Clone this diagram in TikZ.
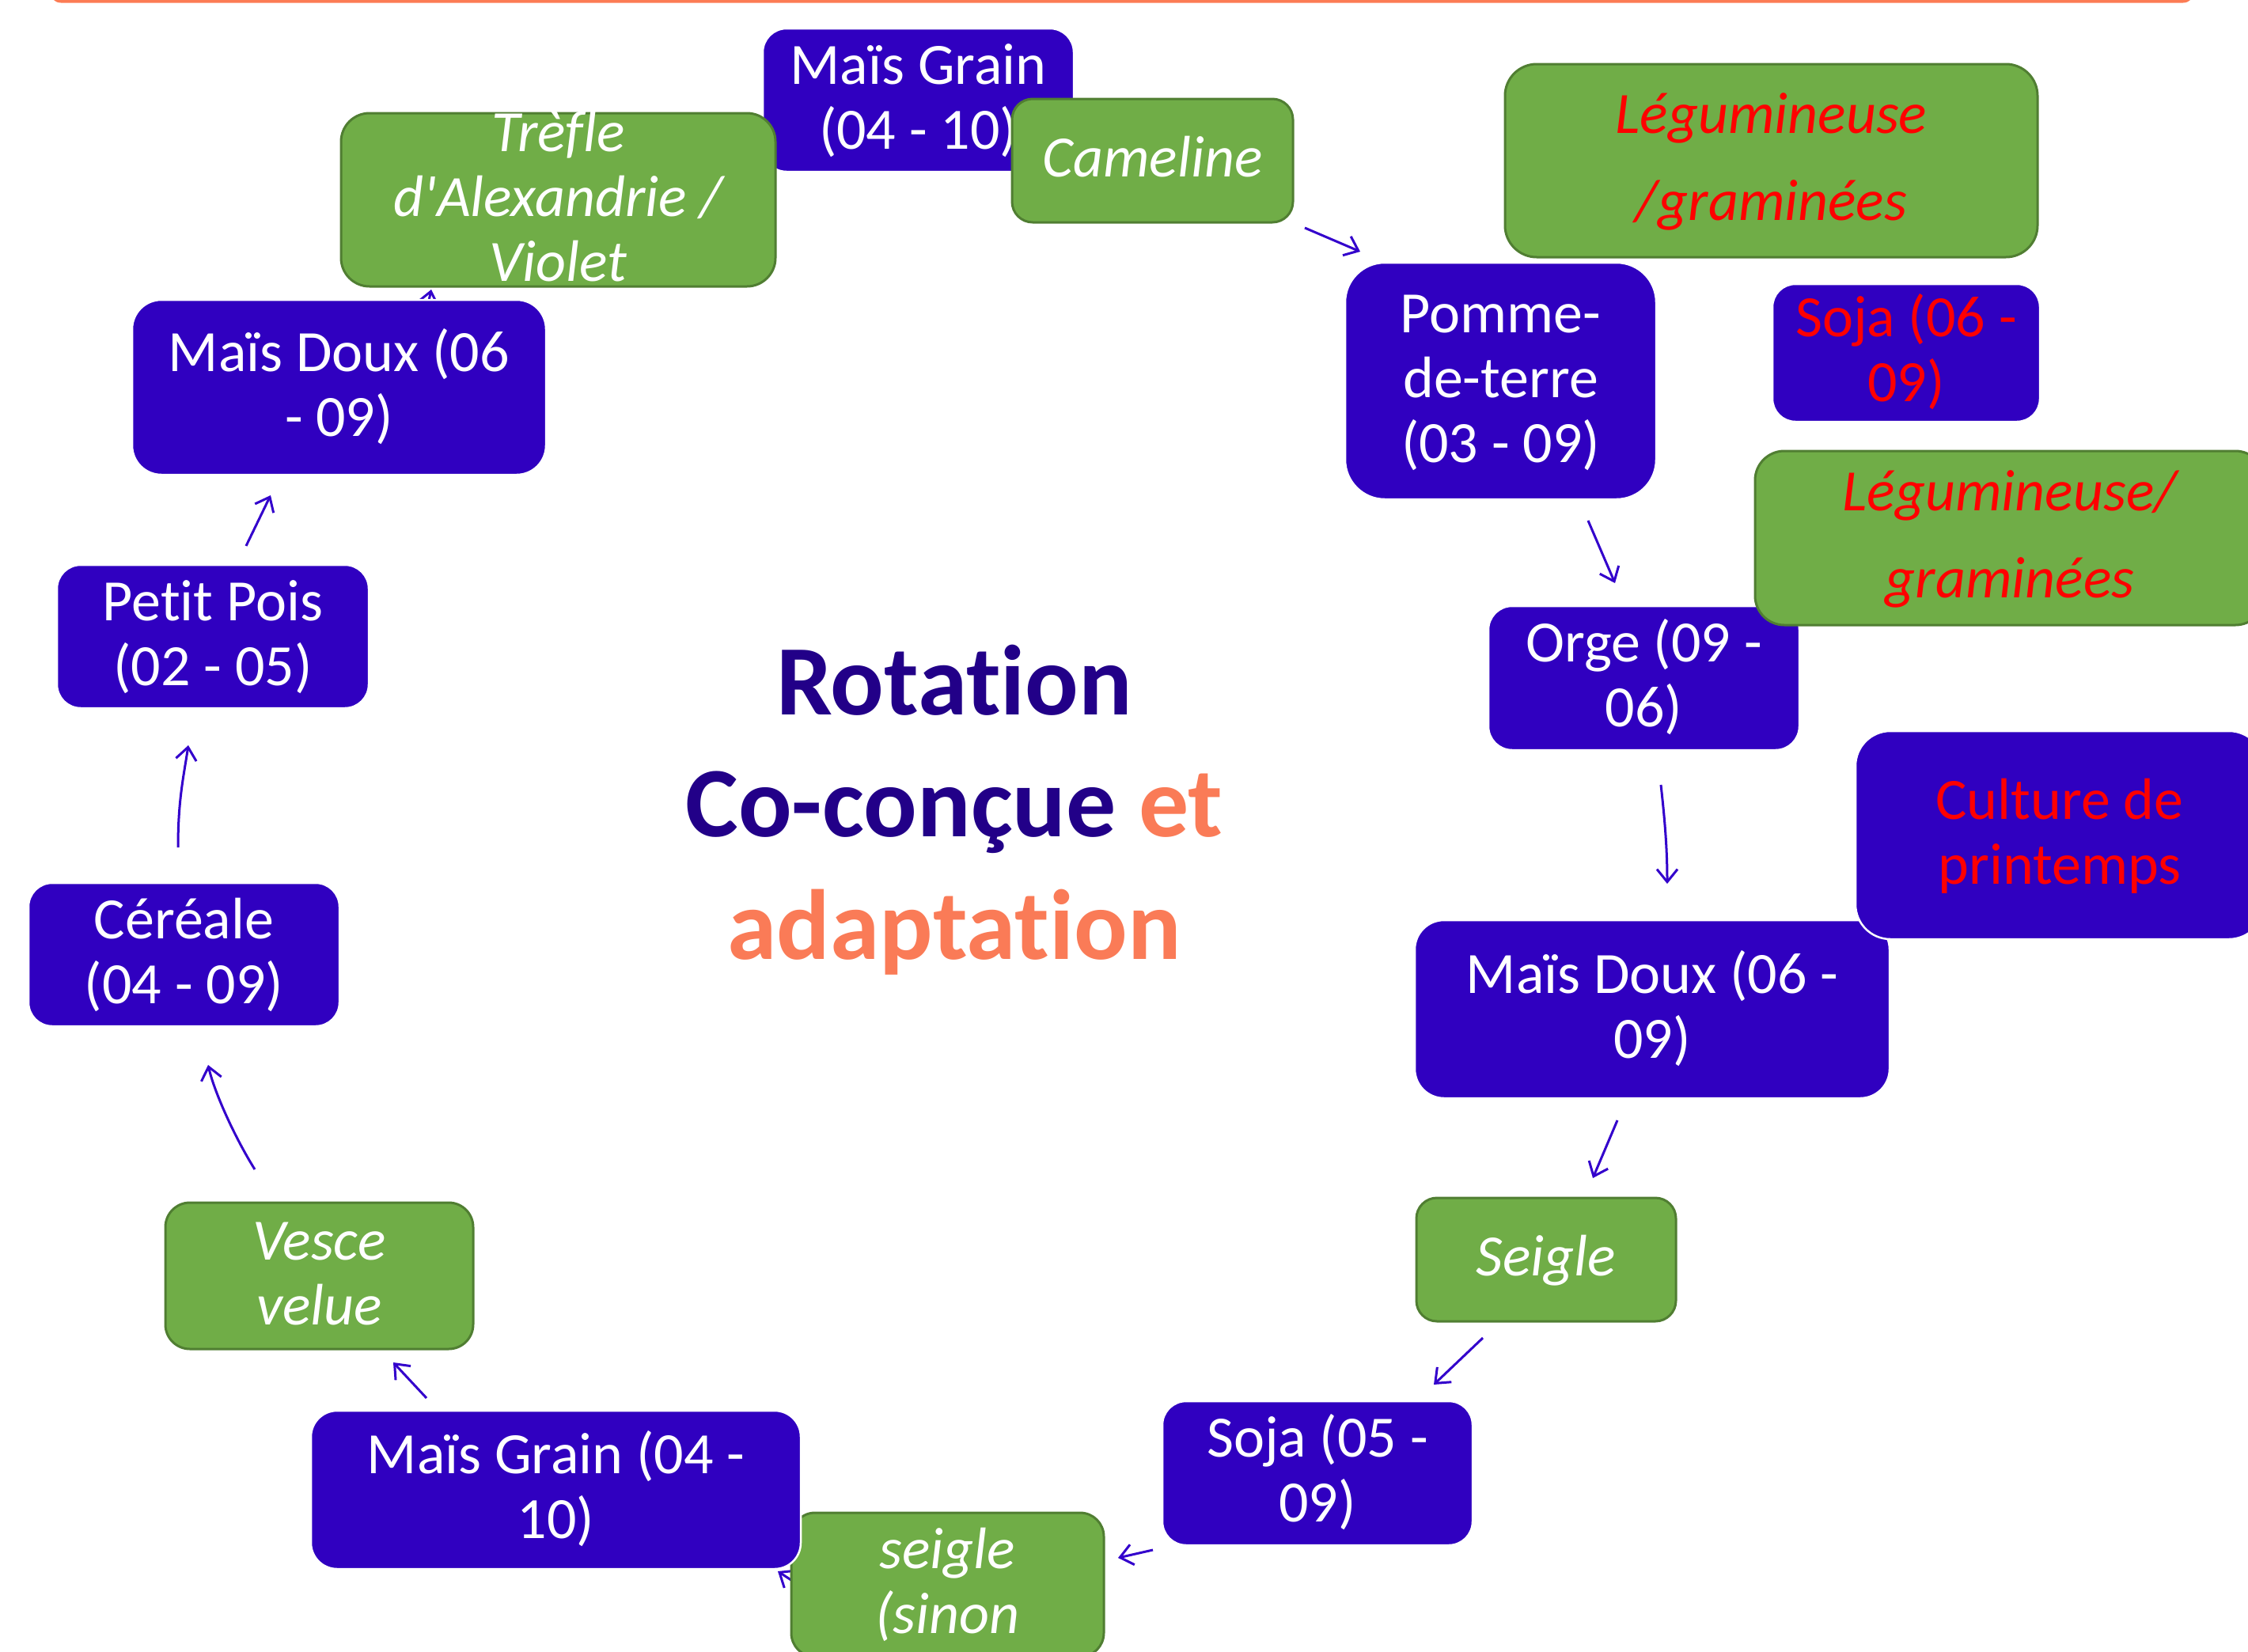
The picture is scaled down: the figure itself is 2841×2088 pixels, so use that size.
\documentclass[tikz,border=0pt]{standalone}
\usepackage{fontspec}
\setmainfont{Carlito}[Ligatures={NoCommon}]
\newfontfamily\calibrifont{Carlito}[Ligatures={NoCommon}]
\usetikzlibrary{arrows.meta}
\definecolor{boxblue}{RGB}{48,0,192}
\definecolor{boxgreen}{RGB}{112,173,71}
\definecolor{greenline}{RGB}{80,126,50}
\definecolor{titleblue}{RGB}{34,0,136}
\definecolor{titleorange}{RGB}{250,123,87}
\definecolor{barorange}{RGB}{252,124,84}
\definecolor{arrowblue}{RGB}{51,0,204}
\definecolor{alertred}{RGB}{255,0,0}
\pgfdeclarelayer{paper}
\pgfdeclarelayer{back}
\pgfsetlayers{paper,back,main}
\newcommand\lnstrut{\rule[-20.5pt]{0pt}{82pt}}
\newcommand\lgstrut{\rule[-35pt]{0pt}{110.5pt}}
\begin{document}
\begin{tikzpicture}[x=1pt,y=-1pt,
  sz/.style n args={3}{minimum width=#1pt,minimum height=#2pt,rounded corners=#3pt},
  bluebox/.style={draw=white,line width=2.5pt,fill=boxblue,inner sep=0pt,outer sep=0pt},
  greenbox/.style={draw=greenline,line width=3pt,fill=boxgreen,inner sep=0pt,outer sep=0pt},
  boxtext/.style={align=center,inner sep=0pt,text=white,font=\calibrifont\fontsize{74}{82}\selectfont},
  itext/.style={boxtext,font=\calibrifont\itshape\fontsize{74}{82}\selectfont},
  redtext/.style={boxtext,text=alertred},
  reditext/.style={boxtext,text=alertred,font=\calibrifont\itshape\fontsize{74}{110.5}\selectfont},
  flow/.style={draw=arrowblue,line width=3pt,-{Straight Barb[length=16pt,width=26pt]}},
  titletext/.style={anchor=base,inner sep=0pt,font=\calibrifont\bfseries\fontsize{126}{154}\selectfont},
]
\useasboundingbox (0,0) rectangle (2841,2088);
\begin{pgfonlayer}{paper}
\fill[white] (0,0) rectangle (2841,2088);
\end{pgfonlayer}
\clip (0,0) rectangle (2841,2088);
% top orange bar
\fill[barorange,rounded corners=14pt] (63,-60) rectangle (2773,3.5);

% top
\node[bluebox,sz={393}{181}{30}] (mgt) at (1160.5,126.5) {};
\node[boxtext] (mgt-t) at (mgt.center) {Maïs Grain\lnstrut\\(04 - 10)\lnstrut};
\node[greenbox,sz={549}{219}{36}] (tre) at (705.5,252.5) {};
\node[itext] (tre-t) at (tre.center) {Trèfle\lnstrut\\d'Alexandrie /\lnstrut\\Violet\lnstrut};
\node[greenbox,sz={355}{156}{26}] (cam) at (1456.5,203) {};
\node[itext] (cam-t) at (cam.center) {Cameline\lnstrut};
\node[greenbox,sz={673}{244}{40}] (leg1) at (2238.5,203) {};
\node[reditext] (leg1-t) at (leg1.center) {Légumineuse\lgstrut\\/graminées\lgstrut};

% right side
\node[bluebox,sz={393}{299}{50}] (pdt) at (1896.5,481.5) {};
\node[boxtext] (pdt-t) at (pdt.center) {Pomme-\lnstrut\\de-terre\lnstrut\\(03 - 09)\lnstrut};
\node[bluebox,sz={338}{174}{29}] (soja1) at (2409,446) {};
\node[redtext] (soja1-t) at (soja1.center) {Soja (06 -\lnstrut\\09)\lnstrut};
\node[bluebox,sz={393}{182}{30}] (orge) at (2077.5,857) {};
\node[boxtext] (orge-t) at (orge.center) {Orge (09 -\lnstrut\\06)\lnstrut};
\node[greenbox,sz={644}{220}{37}] (leg2) at (2540,680) {};
\node[reditext] (leg2-t) at (leg2.center) {Légumineuse/\lgstrut\\graminées\lgstrut};
\node[bluebox,sz={600}{225}{37}] (mdr) at (2088,1275.5) {};
\node[boxtext] (mdr-t) at (mdr.center) {Maïs Doux (06 -\lnstrut\\09)\lnstrut};
\node[bluebox,sz={516}{263}{44}] (cul) at (2603,1055.5) {};
\node[redtext] (cul-t) at (cul.center) {Culture de\lnstrut\\printemps\lnstrut};
\node[greenbox,sz={328}{156}{26}] (sei) at (1954,1592) {};
\node[itext] (sei-t) at (sei.center) {Seigle\lnstrut};

% bottom
\node[bluebox,sz={392}{182}{30}] (soja2) at (1665,1862) {};
\node[boxtext] (soja2-t) at (soja2.center) {Soja (05 -\lnstrut\\09)\lnstrut};
\node[greenbox,sz={395}{182}{30}] (sein) at (1197.5,2003) {};
\node[itext] (sein-t) at (sein.center) {seigle\lnstrut\\(sinon\lnstrut};
\node[bluebox,sz={619}{200}{33}] (mgb) at (702.5,1883) {};
\node[boxtext] (mgb-t) at (mgb.center) {Maïs Grain (04 -\lnstrut\\10)\lnstrut};

% left side
\node[greenbox,sz={389}{185}{31}] (ves) at (403.5,1612.5) {};
\node[itext] (ves-t) at (ves.center) {Vesce\lnstrut\\velue\lnstrut};
\node[bluebox,sz={393}{181}{30}] (cer) at (232.5,1206.5) {};
\node[boxtext] (cer-t) at (cer.center) {Céréale\lnstrut\\(04 - 09)\lnstrut};
\node[bluebox,sz={394}{181}{30}] (pp) at (269,804.5) {};
\node[boxtext] (pp-t) at (pp.center) {Petit Pois\lnstrut\\(02 - 05)\lnstrut};
\node[bluebox,sz={523}{221}{37}] (mdl) at (428.5,489.5) {};
\node[boxtext] (mdl-t) at (mdl.center) {Maïs Doux (06\lnstrut\\- 09)\lnstrut};

% title
\node[titletext,text=titleblue] (t1) at (1206,903) {Rotation};
\node[titletext] (t2) at (1206,1057) {\textcolor{titleblue}{Co-conçue} \textcolor{titleorange}{et}};
\node[titletext,text=titleorange] (t3) at (1206,1212) {adaptation};

% connectors
\begin{pgfonlayer}{back}
\draw[flow] ([shift={(15,7)}]cam.south east) -- ([shift={(19,-14)}]pdt.north west);
\draw[flow] ([shift={(110.5,27)}]pdt.south) -- ([shift={(-36.5,-29)}]orge.north);
\draw[flow] ([shift={(21.5,44)}]orge.south) .. controls +(5,45) and +(0,-45) .. ([shift={(19,-46)}]mdr.north);
\draw[flow] ([shift={(-44,28)}]mdr.south) -- ([shift={(59,-25)}]sei.north);
\draw[flow] ([shift={(-80,21)}]sei.south) -- ([shift={(147,-21)}]soja2.north);
\draw[flow] ([shift={(-12,97)}]soja2.west) -- ([shift={(18,-34)}]sein.east);
\draw[flow] ([shift={(12,2)}]sein.west) -- ([shift={(-29,3)}]mgb.south east);
\draw[flow] ([shift={(-163.5,-16)}]mgb.north) -- ([shift={(93.5,17)}]ves.south);
\draw[flow] ([shift={(-81.5,-42)}]ves.north) .. controls +(-25,-40) and +(8,35) .. ([shift={(30.5,49)}]cer.south);
\draw[flow] ([shift={(-7.5,-45)}]cer.north) .. controls +(0,-60) and +(-6,40) .. ([shift={(-31,47)}]pp.south);
\draw[flow] ([shift={(42,-24)}]pp.north) -- ([shift={(-86.5,26)}]mdl.south);
\draw[flow] ([shift={(113.5,1)}]mdl.north) -- ([shift={(-160.5,4)}]tre.south);
\end{pgfonlayer}
\end{tikzpicture}
\end{document}
